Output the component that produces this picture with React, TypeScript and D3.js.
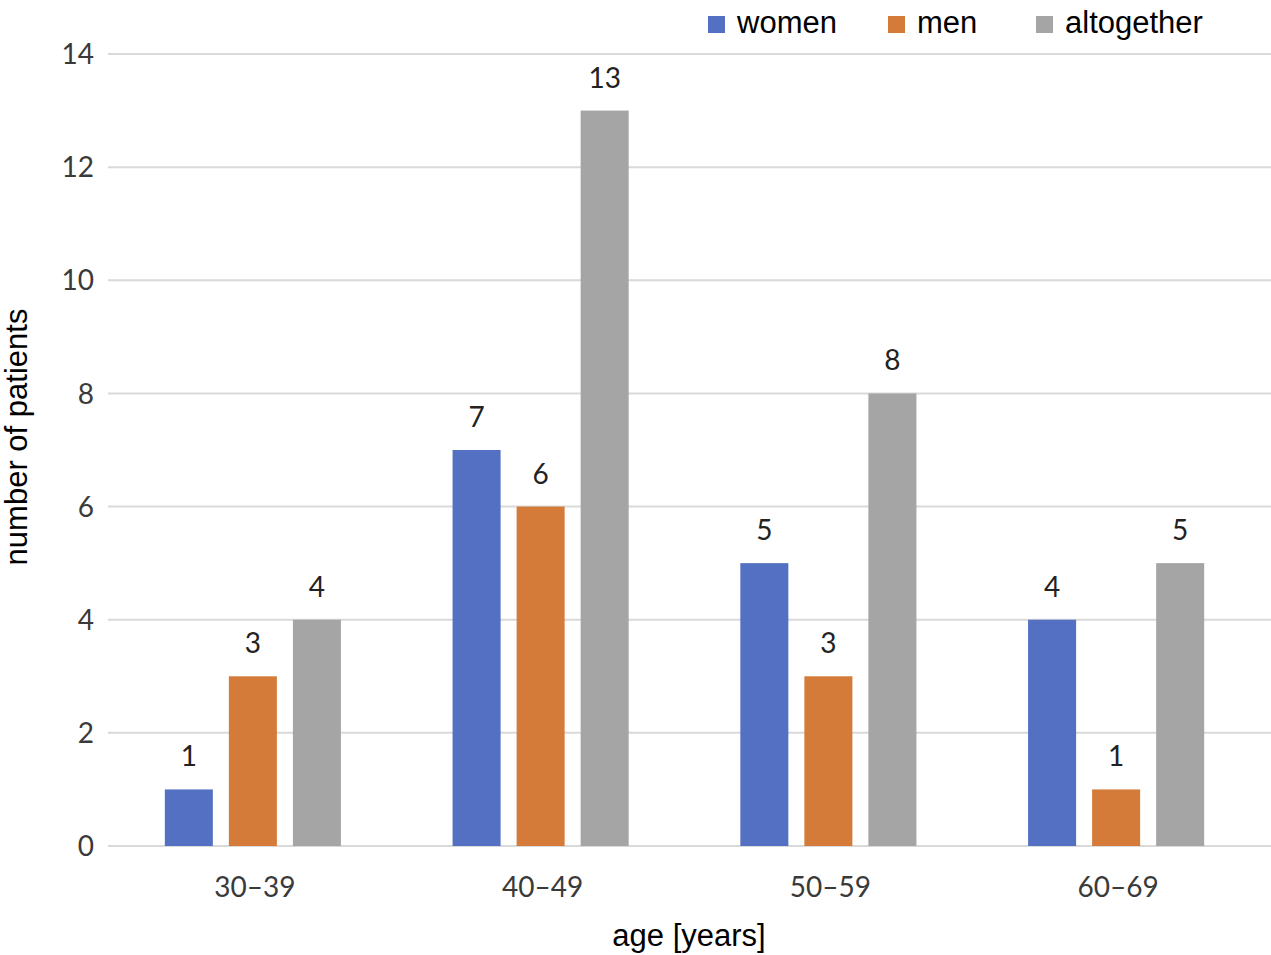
import * as d3 from 'd3';

const AGE_GROUPS = ['30–39', '40–49', '50–59', '60–69'];
const SERIES = ['women', 'men', 'altogether'];
const WOMEN = [1, 7, 5, 4];
const MEN = [3, 6, 3, 1];
const ALTOGETHER = [4, 13, 8, 5];
const Y_TICKS = [0, 2, 4, 6, 8, 10, 12, 14];
const COLORS = ['#5470C2', '#D57B3A', '#A5A5A5'];

const WIDTH = 1271;
const HEIGHT = 955;

export default function App() {
  const values = [WOMEN, MEN, ALTOGETHER];

  const x0 = d3.scaleBand<string>()
    .domain(AGE_GROUPS)
    .range([109, 1260])
    .paddingInner(0.388)
    .paddingOuter(0.194);

  const x1 = d3.scaleBand<string>()
    .domain(SERIES)
    .range([0, x0.bandwidth()])
    .paddingInner(0.25)
    .paddingOuter(0);

  const y = d3.scaleLinear().domain([0, 14]).range([846, 54]);

  const tickFont = 'Lato, "Open Sans", sans-serif';
  const titleFont = '"Liberation Sans", Arial, sans-serif';

  // legend item x positions (square left edge)
  const legendX = [708, 888, 1036];

  return (
    <svg
      width={WIDTH}
      height={HEIGHT}
      style={{ position: 'absolute', left: 0, top: 0, background: '#fff' }}
    >
      {/* gridlines */}
      {Y_TICKS.map((t) => (
        <line
          key={t}
          x1={108}
          x2={1271}
          y1={y(t)}
          y2={y(t)}
          stroke="#d9d9d9"
          strokeWidth={2}
        />
      ))}

      {/* y tick labels */}
      {Y_TICKS.map((t) => (
        <text
          key={t}
          x={94}
          y={y(t)}
          dy="0.36em"
          textAnchor="end"
          fontFamily={tickFont}
          fontSize={28}
          fill="#3a3a3a"
        >
          {t}
        </text>
      ))}

      {/* bars */}
      {AGE_GROUPS.map((g, i) => (
        <g key={g} transform={`translate(${x0(g)},0)`}>
          {SERIES.map((s, j) => {
            const v = values[j][i];
            const bx = x1(s)!;
            return (
              <g key={s}>
                <rect
                  x={bx}
                  y={y(v)}
                  width={x1.bandwidth()}
                  height={y(0) - y(v)}
                  fill={COLORS[j]}
                />
                <text
                  x={bx + x1.bandwidth() / 2}
                  y={y(v) - 23}
                  textAnchor="middle"
                  fontFamily={tickFont}
                  fontSize={28}
                  fill="#222"
                >
                  {v}
                </text>
              </g>
            );
          })}
        </g>
      ))}

      {/* x tick labels */}
      {AGE_GROUPS.map((g) => (
        <text
          key={g}
          x={x0(g)! + x0.bandwidth() / 2 + 2}
          y={897}
          textAnchor="middle"
          fontFamily={tickFont}
          fontSize={28}
          fill="#3a3a3a"
        >
          {g}
        </text>
      ))}

      {/* axis titles */}
      <text
        x={689}
        y={946}
        textAnchor="middle"
        fontFamily={titleFont}
        fontSize={31}
        fill="#000"
      >
        age [years]
      </text>
      <text
        transform="translate(27,437) rotate(-90)"
        textAnchor="middle"
        fontFamily={titleFont}
        fontSize={31}
        fill="#000"
      >
        number of patients
      </text>

      {/* legend */}
      {SERIES.map((s, j) => (
        <g key={s} transform={`translate(${legendX[j]},0)`}>
          <rect x={0} y={16} width={17} height={17} fill={COLORS[j]} />
          <text
            x={29}
            y={33}
            fontFamily={titleFont}
            fontSize={31}
            fill="#000"
          >
            {s}
          </text>
        </g>
      ))}
    </svg>
  );
}
